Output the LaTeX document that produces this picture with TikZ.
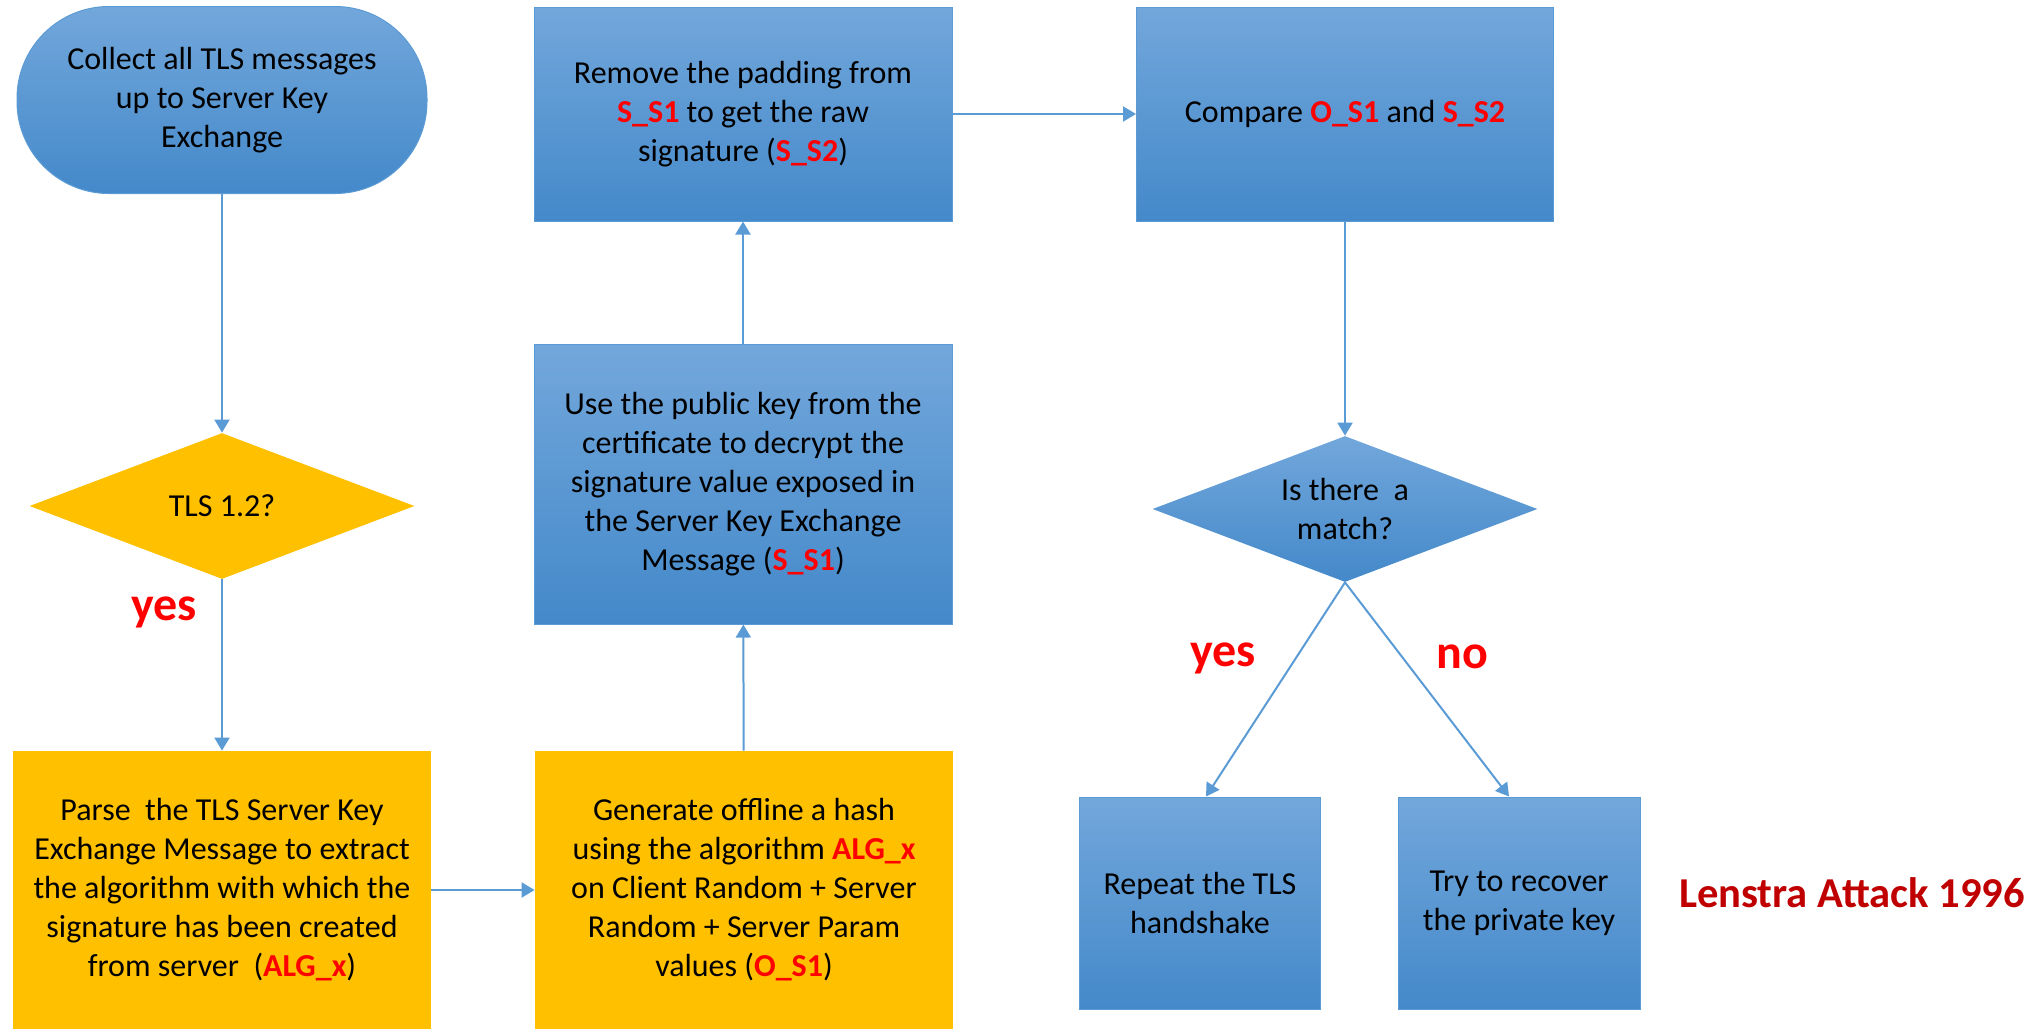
\documentclass[tikz,border=0pt]{standalone}
\usepackage{fontspec}
\setmainfont{Carlito}
\usepackage{tikz}
\usetikzlibrary{arrows.meta}
\usetikzlibrary{shapes.geometric}
\usetikzlibrary{positioning}
\definecolor{boxblue}{RGB}{91,155,213}
\definecolor{bluetop}{RGB}{114,167,219}
\definecolor{bluebot}{RGB}{68,137,202}
\definecolor{boxgold}{RGB}{255,192,0}
\definecolor{keyred}{RGB}{255,0,0}
\definecolor{darkred}{RGB}{192,0,0}
\newcommand{\keyval}[1]{\textcolor{keyred}{\textbf{#1}}}
\tikzset{box/.style = {rectangle, align = center, inner sep = 0, text = black,
                       font = \fontsize{16}{19.5}\selectfont}}
\tikzset{bluebox/.style = {box, draw = boxblue, line width = 0.5pt,
                           top color = bluetop, bottom color = bluebot}}
\tikzset{goldbox/.style = {box, fill = boxgold}}
\tikzset{test/.style = {diamond, aspect = 2.6, inner sep = 0, align = center, text = black,
                        minimum width = 192.5pt, minimum height = 73pt,
                        font = \fontsize{16}{19.5}\selectfont}}
\tikzset{link/.style = {draw = boxblue, line width = 1pt,
                        -{Triangle[width = 7.5pt, length = 6.5pt]}}}
\tikzset{answer/.style = {text = keyred, font = \fontsize{24}{28}\selectfont\bfseries}}

\begin{document}
\begin{tikzpicture}[x = 0.5pt, y = -0.5pt]
      \useasboundingbox (0, 0) rectangle (2038, 1029);

      % left column
      \node [bluebox, rounded corners = 46pt, minimum width = 205pt, minimum height = 93.5pt]
        (collect) at (222, 100) {Collect all TLS messages\\ up to Server Key\\ Exchange};
      \node [test, fill = boxgold] (tls) at (222, 506) {TLS 1.2?};
      \node [goldbox, minimum width = 209pt, minimum height = 139pt] (parse) at (222, 890)
        {Parse\ \ the TLS Server Key\\ Exchange Message to extract\\ the algorithm with which the\\
         signature has been created\\ from server\ \ (\keyval{ALG\_x})};
      \node [answer] (yesleft) at (164, 612) {yes};

      % middle column
      \node [goldbox, minimum width = 209pt, minimum height = 139pt] (hash) at (744, 890)
        {Generate offline a hash\\ using the algorithm \keyval{ALG\_x}\\ on Client Random + Server\\
         Random + Server Param\\ values (\keyval{O\_S1})};
      \node [bluebox, minimum width = 209pt, minimum height = 140pt] (decrypt) at (743, 484)
        {Use the public key from the\\ certificate to decrypt the\\ signature value exposed in\\
         the Server Key Exchange\\ Message (\keyval{S\_S1})};
      \node [bluebox, minimum width = 209pt, minimum height = 107pt] (unpad) at (743, 114)
        {Remove the padding from\\ \keyval{S\_S1} to get the raw\\ signature (\keyval{S\_S2})};

      % right column
      \node [bluebox, minimum width = 208.5pt, minimum height = 107pt] (compare) at (1345, 114)
        {Compare \keyval{O\_S1} and \keyval{S\_S2}};
      \node [test, top color = bluetop, bottom color = bluebot] (match) at (1345, 509)
        {Is there\ \ a\\ match?};
      \node [bluebox, minimum width = 120.5pt, minimum height = 106pt] (repeat) at (1200, 903)
        {Repeat the TLS\\ handshake};
      \node [bluebox, minimum width = 121pt, minimum height = 106pt] (recover) at (1519, 903)
        {Try to recover\\ the private key};
      \node [answer] (yesright) at (1223, 658) {yes};
      \node [answer] (noright) at (1462, 657) {no};
      \node [text = darkred, font = \fontsize{21.3}{25}\selectfont\bfseries] (lenstra) at (1852, 893)
        {Lenstra Attack 1996};

      \draw [link] (collect) -- (tls);
      \draw [link] (tls) -- (parse);
      \draw [link] (parse) -- (hash);
      \draw [link] (hash) -- (decrypt);
      \draw [link] (decrypt) -- (unpad);
      \draw [link] (unpad) -- (compare);
      \draw [link] (compare) -- (match);
      \draw [link] (match.south) -- ([xshift = 3pt] repeat.north);
      \draw [link] (match.south) -- ([xshift = -5pt] recover.north);
    \end{tikzpicture}
\end{document}
